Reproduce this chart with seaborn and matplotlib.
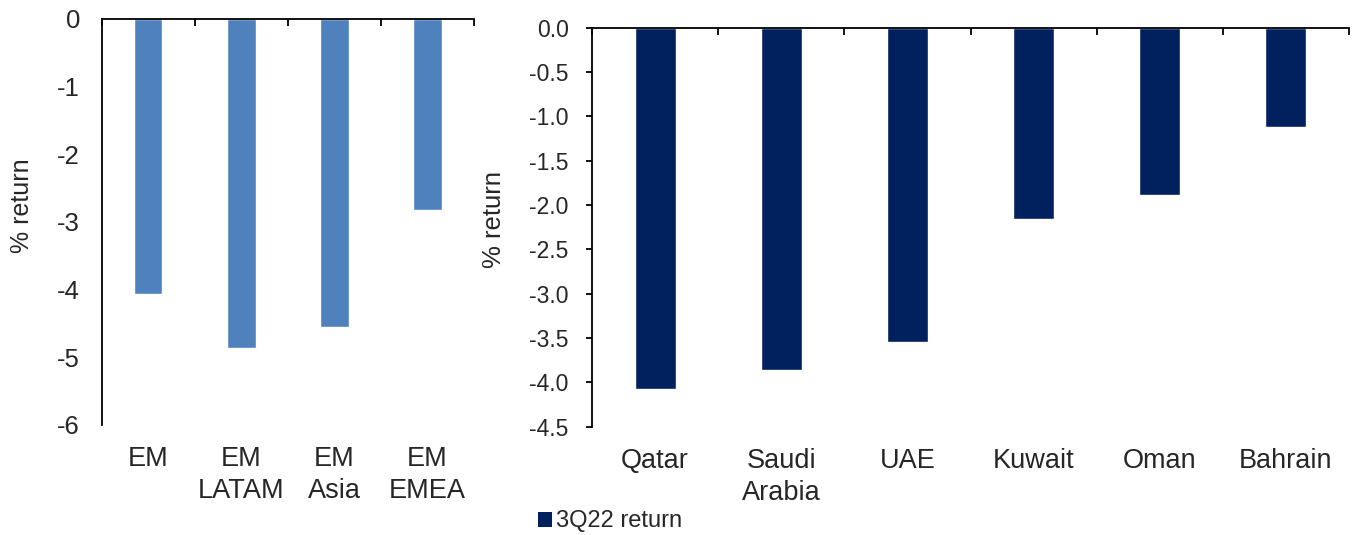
import matplotlib
matplotlib.use("Agg")
import matplotlib.pyplot as plt
import seaborn as sns
import pandas as pd
from matplotlib.patches import Patch

# Emerging-market regional returns (left panel)
em_regions = ["EM", "EM\nLATAM", "EM\nAsia", "EM\nEMEA"]
em_returns = [-4.06, -4.87, -4.56, -2.83]
em_ticks = [0, -1, -2, -3, -4, -5, -6]
em_tick_labels = ["0", "-1", "-2", "-3", "-4", "-5", "-6"]

# GCC market returns (right panel)
gcc_markets = ["Qatar", "Saudi\nArabia", "UAE", "Kuwait", "Oman", "Bahrain"]
gcc_returns = [-4.08, -3.86, -3.55, -2.16, -1.89, -1.12]
gcc_ticks = [0.0, -0.5, -1.0, -1.5, -2.0, -2.5, -3.0, -3.5, -4.0, -4.5]
gcc_tick_labels = ["0.0", "-0.5", "-1.0", "-1.5", "-2.0", "-2.5", "-3.0", "-3.5", "-4.0", "-4.5"]

y_title = "% return"
legend_label = "3Q22 return"

EM_BLUE = "#4F81BD"
NAVY = "#00215E"

sns.set_style("white")
plt.rcParams["font.family"] = ["Liberation Sans", "DejaVu Sans"]
plt.rcParams["axes.unicode_minus"] = False

W, H = 1354, 535
fig = plt.figure(figsize=(W / 100, H / 100), dpi=100)
ax1 = fig.add_axes([101.5 / W, 1 - 425 / H, (474 - 101.5) / W, (425 - 18.7) / H])
ax2 = fig.add_axes([592 / W, 1 - 426.7 / H, (1349 - 592) / W, (426.7 - 27.7) / H])

em_df = pd.DataFrame({"region": em_regions, "ret": em_returns})
gcc_df = pd.DataFrame({"market": gcc_markets, "ret": gcc_returns})

sns.barplot(data=em_df, x="region", y="ret", color=EM_BLUE, saturation=1,
            width=0.31, ax=ax1, errorbar=None)
sns.barplot(data=gcc_df, x="market", y="ret", color=NAVY, saturation=1,
            width=0.325, ax=ax2, errorbar=None)


def style_axes(ax, n, ticks, labels, show_yticks, ytick_pad, tick_size,
               cat_size, title_size):
    ax.set_xlim(-0.5, n - 0.5)
    ax.set_ylim(ticks[-1], ticks[0])
    ax.set_yticks(ticks)
    ax.set_yticklabels(labels)
    ax.set_xticks(range(n))
    ax.set_xticks([i - 0.5 for i in range(n + 1)], minor=True)
    for side in ("right", "bottom"):
        ax.spines[side].set_visible(False)
    for side in ("left", "top"):
        ax.spines[side].set_visible(True)
        ax.spines[side].set_color("black")
        ax.spines[side].set_linewidth(1.3)
    ax.tick_params(axis="x", which="major", bottom=False, top=False,
                   labelbottom=True, labeltop=False, length=0, pad=15,
                   labelsize=cat_size)
    ax.tick_params(axis="x", which="minor", bottom=False, top=True,
                   direction="in", length=5.2, width=1.3, color="black")
    ax.tick_params(axis="y", which="major", left=show_yticks, direction="out",
                   length=4.3 if show_yticks else 0, width=1.3, color="black",
                   pad=ytick_pad, labelsize=tick_size)
    for lbl in ax.get_xticklabels():
        lbl.set_linespacing(1.3)
    ax.set_xlabel("")
    ax.set_ylabel(y_title, fontsize=title_size)
    ax.grid(False)


style_axes(ax1, len(em_regions), em_ticks, em_tick_labels, False, 15.5, 18.5, 19.5, 18)
style_axes(ax2, len(gcc_markets), gcc_ticks, gcc_tick_labels, True, 12.5, 16.5, 19.5, 18.5)

ax1.yaxis.set_label_coords(-0.182, 0.54)
ax2.yaxis.set_label_coords(-0.114, 0.52)

fig.legend(handles=[Patch(facecolor=NAVY, edgecolor="none")], labels=[legend_label],
           loc="center left", bbox_to_anchor=(538 / W, 1 - 521.5 / H),
           frameon=False, borderpad=0, borderaxespad=0,
           handlelength=0.6, handleheight=0.6, handletextpad=0.17,
           fontsize=17)

fig.savefig("out.png", dpi=100)
